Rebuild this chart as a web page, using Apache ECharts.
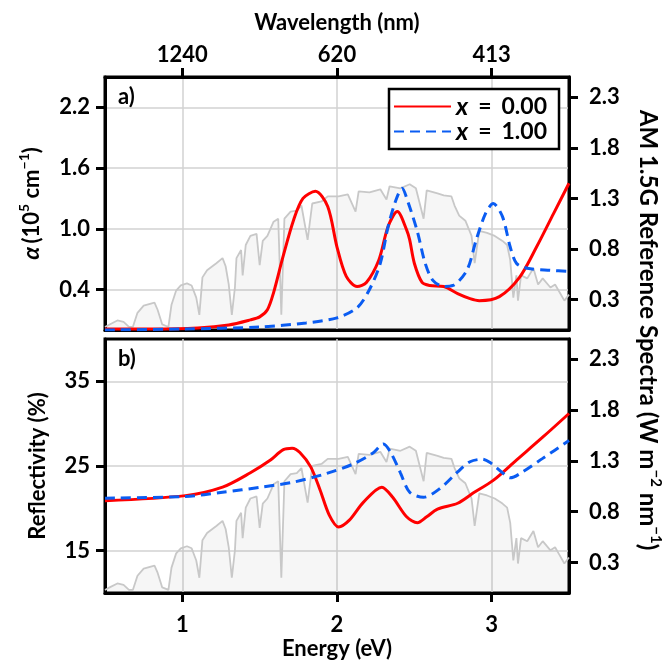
<!DOCTYPE html>
<html>
<head>
<meta charset="utf-8">
<script src="https://cdn.jsdelivr.net/npm/echarts@6/dist/echarts.min.js"></script>
<style>
html, body { margin: 0; padding: 0; background: #fff; }
#chart { width: 670px; height: 668px; }
</style>
</head>
<body>
<div id="chart"></div>
<script>
// ticks
const energyTicks = [1, 2, 3]
const wavelengthLabels = ['1240', '620', '413']
const alphaTicks = [0.4, 1.0, 1.6, 2.2]
const reflTicks = [15, 25, 35]
const spectraTicks = [0.3, 0.8, 1.3, 1.8, 2.3]
const compositions = ['0.00', '1.00']

// absorption coefficient, 10^5 cm^-1
const alphaE0 = [0.50, 0.80, 1.10, 1.30, 1.44, 1.50, 1.55, 1.59, 1.65, 1.72, 1.78, 1.86, 1.94, 2.00, 2.06, 2.13, 2.19, 2.27, 2.33, 2.39, 2.45, 2.47, 2.50, 2.55, 2.60, 2.69, 2.78, 2.86, 2.92, 3.05, 3.18, 3.29, 3.40, 3.50]
const alpha0 = [0.01, 0.01, 0.02, 0.05, 0.10, 0.13, 0.20, 0.37, 0.72, 1.09, 1.30, 1.37, 1.22, 0.82, 0.53, 0.43, 0.47, 0.69, 1.02, 1.17, 0.99, 0.89, 0.66, 0.47, 0.44, 0.43, 0.36, 0.31, 0.29, 0.33, 0.52, 0.82, 1.15, 1.45]
const alphaE1 = [0.50, 1.00, 1.50, 1.80, 2.00, 2.13, 2.21, 2.28, 2.33, 2.38, 2.42, 2.46, 2.52, 2.57, 2.62, 2.69, 2.75, 2.84, 2.90, 2.96, 3.01, 3.07, 3.12, 3.16, 3.23, 3.38, 3.50]
const alpha1 = [0.00, 0.01, 0.03, 0.07, 0.12, 0.22, 0.40, 0.66, 1.02, 1.28, 1.40, 1.26, 0.97, 0.66, 0.49, 0.43, 0.44, 0.59, 0.89, 1.15, 1.25, 1.12, 0.82, 0.66, 0.61, 0.59, 0.58]

// reflectivity, %
const reflE0 = [0.50, 1.02, 1.26, 1.44, 1.57, 1.65, 1.71, 1.76, 1.83, 1.89, 1.95, 2.01, 2.08, 2.17, 2.29, 2.36, 2.45, 2.52, 2.58, 2.65, 2.78, 2.88, 3.01, 3.16, 3.33, 3.50]
const refl0 = [20.9, 21.5, 22.5, 24.2, 25.7, 26.9, 27.1, 26.6, 24.9, 22.2, 19.2, 17.8, 18.6, 20.7, 22.5, 21.3, 19.0, 18.3, 19.0, 19.9, 20.6, 21.8, 23.3, 25.7, 28.4, 31.2]
const reflE1 = [0.50, 1.02, 1.26, 1.51, 1.72, 1.93, 2.10, 2.23, 2.30, 2.35, 2.41, 2.47, 2.56, 2.67, 2.78, 2.86, 2.94, 2.99, 3.07, 3.12, 3.20, 3.33, 3.50]
const refl1 = [21.2, 21.4, 21.9, 22.5, 23.1, 24.1, 25.2, 26.5, 27.6, 26.5, 24.2, 21.9, 21.3, 22.4, 24.3, 25.5, 25.8, 25.4, 24.2, 23.6, 24.3, 25.9, 28.0]

// AM 1.5G reference spectrum, W m^-2 nm^-1, against photon energy
const specE = [0.50, 0.53, 0.58, 0.62, 0.655, 0.68, 0.71, 0.75, 0.82, 0.84, 0.87, 0.91, 0.93, 0.96, 0.99, 1.03, 1.06, 1.09, 1.11, 1.13, 1.16, 1.22, 1.26, 1.28, 1.30, 1.32, 1.34, 1.35, 1.38, 1.39, 1.41, 1.44, 1.48, 1.50, 1.52, 1.55, 1.59, 1.62, 1.64, 1.66, 1.70, 1.74, 1.77, 1.81, 1.84, 1.90, 1.94, 2.01, 2.07, 2.12, 2.14, 2.21, 2.28, 2.32, 2.34, 2.41, 2.47, 2.51, 2.56, 2.58, 2.65, 2.69, 2.74, 2.76, 2.79, 2.83, 2.87, 2.89, 2.92, 2.97, 3.02, 3.07, 3.10, 3.12, 3.14, 3.16, 3.17, 3.19, 3.23, 3.27, 3.30, 3.33, 3.38, 3.41, 3.44, 3.47, 3.50]
const specV = [0.03, 0.055, 0.094, 0.08, 0.03, 0.03, 0.17, 0.24, 0.27, 0.2, 0.055, 0.03, 0.25, 0.39, 0.44, 0.46, 0.44, 0.32, 0.15, 0.52, 0.59, 0.66, 0.71, 0.63, 0.45, 0.15, 0.42, 0.71, 0.79, 0.54, 0.84, 0.93, 0.95, 0.64, 0.88, 0.93, 1.07, 1.10, 0.15, 1.10, 1.17, 1.18, 1.23, 0.89, 1.25, 1.27, 1.32, 1.32, 1.34, 1.17, 1.37, 1.36, 1.39, 1.29, 1.42, 1.40, 1.44, 1.40, 1.10, 1.38, 1.35, 1.33, 1.32, 1.23, 1.13, 1.08, 0.93, 0.66, 0.98, 0.96, 0.93, 0.88, 0.84, 0.69, 0.32, 0.54, 0.29, 0.54, 0.51, 0.61, 0.45, 0.51, 0.42, 0.45, 0.37, 0.29, 0.35]

const zip = (xs, ys) => xs.map((x, i) => [x, ys[i]])

const FONT = 'Lato, "DejaVu Sans", sans-serif'
const RED = '#ff0000'
const BLUE = '#0a5cf2'
const GRIDLINE = { show: true, lineStyle: { color: '#d2d2d2', width: 1.5 } }
const TICK = { show: true, inside: false, length: 9, lineStyle: { color: '#000', width: 3 } }
const AXISLINE = { show: true, onZero: false, lineStyle: { color: '#000', width: 3 } }
const LABEL = { fontFamily: FONT, fontSize: 22, fontWeight: 'bold', color: '#000' }
const TITLE = { fontFamily: FONT, fontSize: 22, fontWeight: 'bold', color: '#000' }
const supRich = {
  t: { fontFamily: FONT, fontSize: 22, fontWeight: 'bold', color: '#000', lineHeight: 30 },
  a: { fontFamily: FONT, fontSize: 23, fontWeight: 'bold', fontStyle: 'italic', color: '#000', lineHeight: 30 },
  s: { fontFamily: FONT, fontSize: 14, fontWeight: 'bold', color: '#000', lineHeight: 18, verticalAlign: 'top' }
}

function energyAxis (grid, position, showLabel) {
  return {
    type: 'value',
    gridIndex: grid,
    position: position,
    min: 0.5,
    max: 3.5,
    axisLine: AXISLINE,
    axisTick: Object.assign({}, TICK, { show: showLabel, customValues: energyTicks }),
    axisLabel: Object.assign({}, LABEL, { show: showLabel, customValues: energyTicks, margin: position === 'top' ? 11 : 21 }),
    splitLine: position === 'top' ? { show: false } : GRIDLINE
  }
}

function valueAxis (grid, position, min, max, ticks, fmt, split) {
  return {
    type: 'value',
    gridIndex: grid,
    position: position,
    min: min,
    max: max,
    axisLine: AXISLINE,
    axisTick: Object.assign({}, TICK, { customValues: ticks }),
    axisLabel: Object.assign({}, LABEL, { customValues: ticks, formatter: fmt, margin: position === 'left' ? 15 : 20 }),
    splitLine: split ? GRIDLINE : { show: false }
  }
}

const chart = echarts.init(document.getElementById('chart'), null, { renderer: 'canvas' })

const xTop = energyAxis(0, 'bottom', false)
const xWave = energyAxis(0, 'top', true)
xWave.axisLabel.formatter = v => wavelengthLabels[energyTicks.findIndex(e => Math.abs(e - v) < 1e-6)]
xWave.name = 'Wavelength (nm)'
xWave.nameLocation = 'middle'
xWave.nameGap = 43
xWave.nameTextStyle = TITLE
const xBottom = energyAxis(1, 'bottom', true)
xBottom.name = 'Energy (eV)'
xBottom.nameLocation = 'middle'
xBottom.nameGap = 45
xBottom.nameTextStyle = TITLE

const yAlpha = valueAxis(0, 'left', 0, 2.5, alphaTicks, v => v.toFixed(1), true)
yAlpha.name = '{a|α} {t|(10}{s|5}{t| cm}{s|−1}{t|)}'
yAlpha.nameLocation = 'middle'
yAlpha.nameGap = 58
yAlpha.nameTextStyle = { rich: supRich }
const ySpecTop = valueAxis(0, 'right', 0, 2.5, spectraTicks, v => v.toFixed(1), false)
const yRefl = valueAxis(1, 'left', 10, 40, reflTicks, v => String(v), true)
yRefl.name = 'Reflectivity (%)'
yRefl.nameLocation = 'middle'
yRefl.nameGap = 56
yRefl.nameTextStyle = TITLE
const ySpecBottom = valueAxis(1, 'right', 0, 2.5, spectraTicks, v => v.toFixed(1), false)

function spectrumSeries (xi, yi) {
  return {
    type: 'line',
    xAxisIndex: xi,
    yAxisIndex: yi,
    data: zip(specE, specV),
    symbol: 'none',
    silent: true,
    z: 1,
    lineStyle: { color: '#c8c8c8', width: 1.8 },
    areaStyle: { color: 'rgba(0,0,0,0.05)', origin: 'start' }
  }
}

function curve (name, xi, yi, xs, ys, color, dashed) {
  return {
    name: name,
    type: 'line',
    xAxisIndex: xi,
    yAxisIndex: yi,
    data: zip(xs, ys),
    symbol: 'none',
    smooth: 0.3,
    z: 3,
    itemStyle: { color: color },
    lineStyle: { color: color, width: 3, type: dashed ? [10, 6] : 'solid' }
  }
}

const names = compositions.map(c => 'x = ' + c)

const option = {
  animation: false,
  backgroundColor: '#ffffff',
  grid: [
    { left: 105, right: 101, top: 77, height: 253, show: true, borderColor: '#000', borderWidth: 3, backgroundColor: '#fff' },
    { left: 105, right: 101, top: 339, height: 254, show: true, borderColor: '#000', borderWidth: 3, backgroundColor: '#fff' }
  ],
  xAxis: [xTop, xWave, xBottom],
  yAxis: [yAlpha, ySpecTop, yRefl, ySpecBottom],
  legend: {
    data: names,
    left: 389,
    top: 89,
    orient: 'vertical',
    backgroundColor: '#fff',
    borderColor: '#000',
    borderWidth: 2.5,
    borderRadius: 0,
    padding: [5, 12, 5, 4],
    itemWidth: 57,
    itemHeight: 14,
    itemGap: 0,
    itemStyle: { opacity: 0, borderWidth: 0 },
    formatter: n => '{i|x}{e|=}{n|' + n.split('= ')[1] + '}',
    textStyle: {
      fontFamily: FONT,
      fontSize: 23,
      fontWeight: 'bold',
      color: '#000',
      rich: {
        i: { fontFamily: FONT, fontSize: 25, fontWeight: 'bold', fontStyle: 'italic', color: '#000', lineHeight: 26, padding: [0, 10, 0, 0] },
        e: { fontFamily: FONT, fontSize: 23, fontWeight: 'bold', color: '#000', lineHeight: 26, padding: [0, 10, 0, 0] },
        n: { fontFamily: FONT, fontSize: 23, fontWeight: 'bold', color: '#000', lineHeight: 26 }
      }
    }
  },
  graphic: [
    { type: 'text', left: 118, top: 86, style: { text: 'a)', fontFamily: FONT, fontSize: 22, fontWeight: 'bold', fill: '#000' } },
    { type: 'text', left: 118, top: 348, style: { text: 'b)', fontFamily: FONT, fontSize: 22, fontWeight: 'bold', fill: '#000' } },
    {
      type: 'text',
      x: 648,
      y: 330,
      rotation: -Math.PI / 2,
      style: {
        text: '{t|AM 1.5G Reference Spectra (W m}{s|−2}{t| nm}{s|−1}{t|)}',
        align: 'center',
        verticalAlign: 'middle',
        rich: {
          t: { fontFamily: FONT, fontSize: 24, fontWeight: 'bold', fill: '#000', lineHeight: 30 },
          s: { fontFamily: FONT, fontSize: 15, fontWeight: 'bold', fill: '#000', lineHeight: 18, verticalAlign: 'top' }
        }
      }
    }
  ],
  series: [
    spectrumSeries(0, 1),
    spectrumSeries(2, 3),
    curve(names[0], 0, 0, alphaE0, alpha0, RED, false),
    curve(names[1], 0, 0, alphaE1, alpha1, BLUE, true),
    curve(names[0], 2, 2, reflE0, refl0, RED, false),
    curve(names[1], 2, 2, reflE1, refl1, BLUE, true)
  ]
}

chart.setOption(option)
</script>
</body>
</html>
